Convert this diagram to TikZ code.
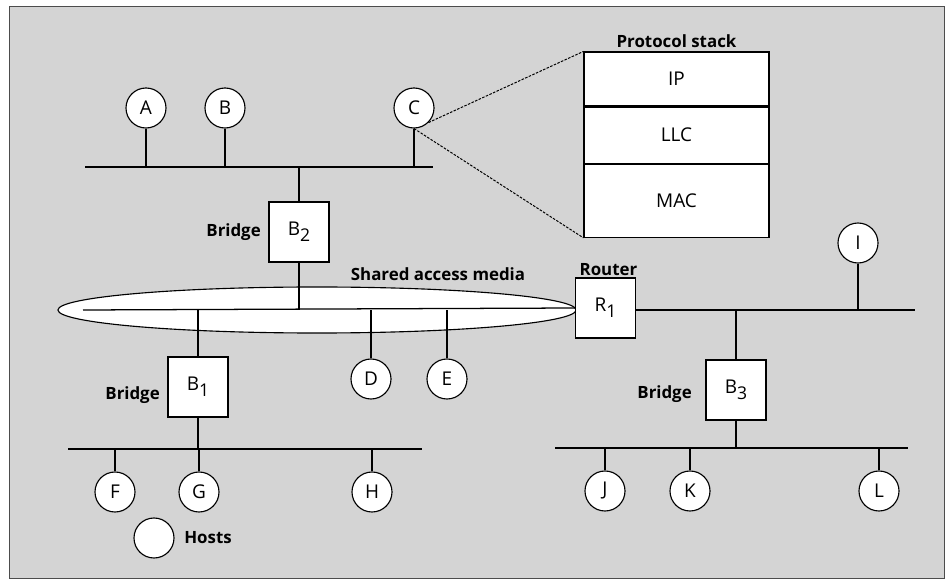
\documentclass[tikz,border=0pt]{standalone}
\usepackage{fontspec}
\setsansfont{Open Sans}
\usetikzlibrary{shapes.geometric, positioning, calc}

\newcommand{\lowsub}[1]{\raisebox{-0.6ex}{\fontsize{12.5}{13}\selectfont #1}}

\begin{document}
\begin{tikzpicture}[
    x=0.025cm, y=-0.025cm,
    font=\sffamily\fontsize{13.5}{15}\selectfont,
    host/.style    ={circle, draw, line width=0.8pt, fill=white,
                     minimum size=1cm, inner sep=0pt},
    bridgebox/.style={draw, line width=0.8pt, fill=white,
                     minimum width=1.5cm, minimum height=1.5cm, inner sep=0pt},
    layer/.style   ={draw, line width=0.8pt, fill=white,
                     minimum width=4.625cm, inner sep=0pt},
    lbl/.style     ={font=\sffamily\bfseries\fontsize{12}{14}\selectfont, inner sep=1pt},
    bus/.style     ={line width=0.9pt},
    stub/.style    ={line width=0.8pt},
    zoomline/.style={dash pattern=on 1.8pt off 1pt, line width=0.7pt}
]

% background and frame
\useasboundingbox (0,0) rectangle (946,582);
\fill[black!17] (9,6) rectangle (944,578);
\draw[line width=0.5pt, black!70] (9,6) rectangle (944,578);

% Shared access medium
\node[ellipse, draw, line width=0.8pt, fill=white, minimum width=12.95cm,
      minimum height=1.15cm, inner sep=0pt] (media) at (317,310) {};
\node[lbl] (medialbl) at (438,274) {Shared access media};

% Router and its LAN
\node[bridgebox] (R1) at (605.5,308) {R\lowsub{1}};
\node[lbl, anchor=south west] (routerlbl) at ($(R1.north west)+(3,0)$) {Router};
\coordinate (mediaw) at (83,310);
\coordinate (lan3e) at (915,310);
\draw[bus] (mediaw) -- (R1.west);
\draw[bus] (R1.east |- lan3e) -- (lan3e);

% Top LAN: A, B, C
\coordinate (lan2w) at (85,167);
\coordinate (lan2e) at (433,167);
\draw[bus] (lan2w) -- (lan2e);
\node[host] (A) at (146,108) {A};
\node[host] (B) at (225,108) {B};
\node[host] (C) at (414,108) {C};
\foreach \h in {A,B,C}
  \draw[stub] (\h) -- (\h |- lan2w);

% Bridge B2
\node[bridgebox] (B2) at (299,232) {B\lowsub{2}};
\node[lbl, left=1.5mm of B2] (b2lbl) {Bridge};
\draw[stub] (B2) -- (B2 |- lan2w);
\draw[stub] (B2) -- (B2 |- mediaw);

% Hosts on the shared medium
\node[host] (D) at (371,379) {D};
\node[host] (E) at (447,379) {E};
\foreach \h in {D,E}
  \draw[stub] (\h) -- (\h |- mediaw);

% Bridge B1 and its LAN
\node[bridgebox] (B1) at (198,387) {B\lowsub{1}};
\node[lbl, left=1.5mm of B1, yshift=-2mm] (b1lbl) {Bridge};
\coordinate (lan1w) at (68,449);
\coordinate (lan1e) at (422,449);
\draw[bus] (lan1w) -- (lan1e);
\draw[stub] (B1) -- (B1 |- mediaw);
\draw[stub] (B1) -- (B1 |- lan1w);
\node[host] (F) at (115,492) {F};
\node[host] (G) at (199,492) {G};
\node[host] (H) at (372,492) {H};
\foreach \h in {F,G,H}
  \draw[stub] (\h) -- (\h |- lan1w);

% Host I on router LAN
\node[host] (I) at (858,243) {I};
\draw[stub] (I) -- (I |- lan3e);

% Bridge B3 and its LAN
\node[bridgebox] (B3) at (736,390) {B\lowsub{3}};
\node[lbl, left=3mm of B3, yshift=-1mm] (b3lbl) {Bridge};
\coordinate (lan4w) at (555,448);
\coordinate (lan4e) at (908,448);
\draw[bus] (lan4w) -- (lan4e);
\draw[stub] (B3) -- (B3 |- lan3e);
\draw[stub] (B3) -- (B3 |- lan4w);
\node[host] (J) at (605,491) {J};
\node[host] (K) at (690,491) {K};
\node[host] (L) at (879,491) {L};
\foreach \h in {J,K,L}
  \draw[stub] (\h) -- (\h |- lan4w);

% Protocol stack of host C
\node[layer, minimum height=1.35cm] (ip) at (676.5,79) {IP};
\node[layer, minimum height=1.4cm, below=0pt of ip] (llc) {LLC};
\node[layer, minimum height=1.825cm, below=0pt of llc] (mac) {MAC};
\node[lbl, above=0.5mm of ip] (stacklbl) {Protocol stack};
\draw[zoomline] (C.-45) -- (ip.north west);
\draw[zoomline] (C.south) -- (mac.south west);

% Legend
\node[host] (legend) at (154,538) {};
\node[lbl, right=2mm of legend] (hostslbl) {Hosts};

\end{tikzpicture}
\end{document}
